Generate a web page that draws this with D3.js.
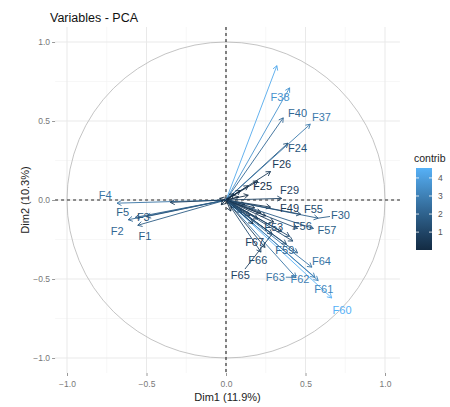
<!DOCTYPE html>
<html><head><meta charset="utf-8">
<script src="https://cdn.jsdelivr.net/npm/d3@7"></script>
<style>body{margin:0;background:#fff}svg{display:block}text{font-family:"Liberation Sans",Arial,sans-serif}</style>
</head><body><svg id="c" width="450" height="407"></svg>
<script>
// ---- data ----
const names = ["F1","F2","F3","F4","F5","","","","","","F24","F25","F26","","F29","F30","","","F37","F38","","F40","","","","F49","","","F53","F55","F56","F57","","F59","F60","F61","F62","F63","F64","F65","F66","F67","","","","","","","","",""];
const dim1 = [-0.555,-0.615,-0.50,-0.685,-0.57,-0.35,-0.04,-0.03,0.08,0.12,0.39,0.14,0.28,0.20,0.35,0.58,0.10,0.06,0.53,0.40,0.32,0.36,0.15,0.05,0.18,0.28,0.20,0.09,0.40,0.47,0.45,0.55,0.42,0.45,0.665,0.58,0.56,0.44,0.54,0.29,0.22,0.245,0.03,0.14,0.22,0.17,0.25,0.30,0.35,0.38,0.02];
const dim2 = [-0.16,-0.125,-0.105,-0.02,-0.11,-0.015,0.01,-0.03,0.02,-0.03,0.36,0.09,0.18,0.12,0.01,-0.115,-0.08,-0.05,0.48,0.71,0.85,0.52,-0.10,0.04,-0.05,-0.045,-0.12,0.06,-0.23,-0.09,-0.18,-0.18,-0.26,-0.335,-0.62,-0.51,-0.49,-0.49,-0.425,-0.215,-0.33,-0.30,-0.07,0.03,-0.08,-0.15,-0.10,-0.14,-0.20,-0.28,0.01];
const contrib = [1.8,2.2,1.5,2.6,1.9,0.7,0.02,0.03,0.05,0.1,1.5,0.15,0.6,0.3,0.9,1.9,0.09,0.04,2.8,3.6,4.3,2.2,0.2,0.03,0.2,0.5,0.3,0.06,1.2,1.2,1.3,1.9,1.3,2.0,4.55,3.2,3.0,2.6,2.6,0.9,1.2,0.8,0.03,0.1,0.3,0.25,0.4,0.6,0.9,1.3,0.01];
const labelDim1 = [-0.51,-0.685,-0.52,-0.76,-0.65,null,null,null,null,null,0.45,0.23,0.35,null,0.40,0.72,null,null,0.60,0.34,null,0.45,null,null,null,0.40,null,null,0.30,0.55,0.48,0.635,null,0.37,0.73,0.615,0.465,0.31,0.60,0.09,0.20,0.18,null,null,null,null,null,null,null,null,null];
const labelDim2 = [-0.23,-0.195,-0.11,0.03,-0.075,null,null,null,null,null,0.33,0.09,0.23,null,0.063,-0.095,null,null,0.525,0.65,null,0.55,null,null,null,-0.05,null,null,-0.17,-0.057,-0.165,-0.19,null,-0.315,-0.695,-0.565,-0.50,-0.487,-0.385,-0.475,-0.38,-0.265,null,null,null,null,null,null,null,null,null];
const majorTicks = [-1.0,-0.5,0.0,0.5,1.0];
const minorTicks = [-0.75,-0.25,0.25,0.75];
const legendTicks = [1,2,3,4];
const title = "Variables - PCA", xTitle = "Dim1 (11.9%)", yTitle = "Dim2 (10.3%)", legendTitle = "contrib";

// ---- layout ----
const svg = d3.select("#c");
const x = d3.scaleLinear().domain([-1,1]).range([67,385]);
const y = d3.scaleLinear().domain([-1,1]).range([358,42]);
const X0 = x(-1.075), X1 = x(1.094), Y0 = y(1.095), Y1 = y(-1.095);
const col = d3.scaleLinear().domain(d3.extent(contrib)).range(["#132B43","#56B1F7"]).interpolate(d3.interpolateLab);

// grid
const g = svg.append("g");
g.selectAll(".mnx").data(minorTicks).join("line").attr("x1",d=>x(d)).attr("x2",d=>x(d)).attr("y1",Y0).attr("y2",Y1).attr("stroke","#f3f3f3").attr("stroke-width",0.7);
g.selectAll(".mny").data(minorTicks).join("line").attr("y1",d=>y(d)).attr("y2",d=>y(d)).attr("x1",X0).attr("x2",X1).attr("stroke","#f3f3f3").attr("stroke-width",0.7);
g.selectAll(".mjx").data(majorTicks).join("line").attr("x1",d=>x(d)).attr("x2",d=>x(d)).attr("y1",Y0).attr("y2",Y1).attr("stroke","#e9e9e9").attr("stroke-width",1);
g.selectAll(".mjy").data(majorTicks).join("line").attr("y1",d=>y(d)).attr("y2",d=>y(d)).attr("x1",X0).attr("x2",X1).attr("stroke","#e9e9e9").attr("stroke-width",1);

// axes
const fmt = d3.format(".1f");
const xa = svg.append("g").attr("transform",`translate(0,${Y1})`).call(d3.axisBottom(x).tickValues(majorTicks).tickFormat(fmt).tickSize(3).tickPadding(3));
const ya = svg.append("g").attr("transform",`translate(${X0},0)`).call(d3.axisLeft(y).tickValues(majorTicks).tickFormat(fmt).tickSize(3).tickPadding(2));
[xa,ya].forEach(a=>{a.select(".domain").remove();a.selectAll(".tick line").attr("stroke","#999");a.selectAll(".tick text").attr("fill","#777").attr("font-size",8.5).attr("font-family","Liberation Sans, Arial");});
xa.selectAll(".tick text").attr("dy","0.9em");

// circle
svg.append("ellipse").attr("cx",x(0)).attr("cy",y(0)).attr("rx",x(1)-x(0)).attr("ry",y(0)-y(1)).attr("fill","none").attr("stroke","#b5b5b5").attr("stroke-width",0.8);

// dashed zero lines
svg.append("line").attr("x1",X0).attr("x2",X1).attr("y1",y(0)).attr("y2",y(0)).attr("stroke","#222").attr("stroke-width",1.1).attr("stroke-dasharray","3,3");
svg.append("line").attr("x1",x(0)).attr("x2",x(0)).attr("y1",Y0).attr("y2",Y1).attr("stroke","#222").attr("stroke-width",1.1).attr("stroke-dasharray","3,3");

// arrows
const data = names.map((n,i)=>({n,x:dim1[i],y:dim2[i],c:contrib[i],lx:labelDim1[i],ly:labelDim2[i]}));
const ag = svg.append("g");
data.forEach(d=>{
  const x0=x(0),y0=y(0),x1=x(d.x),y1=y(d.y);
  const a=Math.atan2(y1-y0,x1-x0), L=5, w=Math.PI/6;
  const c=col(d.c);
  ag.append("line").attr("x1",x0).attr("y1",y0).attr("x2",x1).attr("y2",y1).attr("stroke",c).attr("stroke-width",0.9);
  ag.append("path").attr("d",`M${x1-L*Math.cos(a-w)},${y1-L*Math.sin(a-w)}L${x1},${y1}L${x1-L*Math.cos(a+w)},${y1-L*Math.sin(a+w)}`).attr("fill","none").attr("stroke",c).attr("stroke-width",0.9);
});

// labels
const lg = svg.append("g");
data.filter(d=>d.n).forEach(d=>{
  const cx=x(d.lx), cy=y(d.ly), c=col(d.c);
  const t=lg.append("text").attr("x",cx).attr("y",cy).attr("dy","0.36em").attr("text-anchor","middle").attr("font-size",11).attr("fill",c).text(d.n);
  const tx=x(d.x), ty=y(d.y);
  const dist=Math.hypot(cx-tx,cy-ty);
  if(dist>20){
    const b=t.node().getBBox();
    const hw=b.width/2+1, hh=b.height/2;
    const dx=tx-cx, dy=ty-cy;
    const s=Math.min(Math.abs(hw/dx)||Infinity, Math.abs(hh/dy)||Infinity);
    lg.append("line").attr("x1",cx+dx*s).attr("y1",cy+dy*s).attr("x2",tx).attr("y2",ty).attr("stroke",c).attr("stroke-width",0.9);
  }
});

// titles
svg.append("text").attr("x",50).attr("y",22).attr("font-size",12.5).attr("fill","#111").text(title);
svg.append("text").attr("x",(X0+X1)/2).attr("y",401).attr("text-anchor","middle").attr("font-size",11).attr("fill","#222").text(xTitle);
svg.append("text").attr("transform",`translate(29,${(Y0+Y1)/2}) rotate(-90)`).attr("text-anchor","middle").attr("font-size",11).attr("fill","#222").text(yTitle);

// legend
const lx0=416, lw=16;
const ls = d3.scaleLinear().domain(d3.extent(contrib)).range([250,168]);
const grad = svg.append("defs").append("linearGradient").attr("id","lgd").attr("x1",0).attr("y1",1).attr("x2",0).attr("y2",0);
d3.range(0,1.0001,0.1).forEach(t=>grad.append("stop").attr("offset",t).attr("stop-color",col(ls.domain()[0]+t*(ls.domain()[1]-ls.domain()[0]))));
svg.append("rect").attr("x",lx0).attr("y",ls.range()[1]).attr("width",lw).attr("height",ls.range()[0]-ls.range()[1]).attr("fill","url(#lgd)");
svg.append("text").attr("x",414).attr("y",162).attr("font-size",10.5).attr("fill","#222").text(legendTitle);
legendTicks.forEach(v=>{
  svg.append("line").attr("x1",lx0).attr("x2",lx0+3).attr("y1",ls(v)).attr("y2",ls(v)).attr("stroke","#fff").attr("stroke-width",0.8);
  svg.append("line").attr("x1",lx0+lw-3).attr("x2",lx0+lw).attr("y1",ls(v)).attr("y2",ls(v)).attr("stroke","#fff").attr("stroke-width",0.8);
  svg.append("text").attr("x",438).attr("y",ls(v)).attr("dy","0.35em").attr("font-size",8.5).attr("fill","#555").text(v);
});
</script></body></html>
